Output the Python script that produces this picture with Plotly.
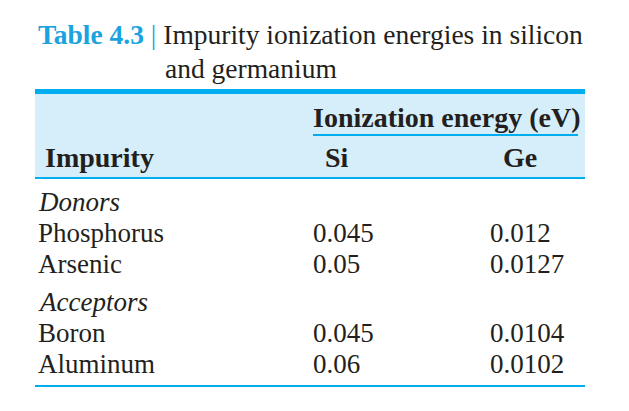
import plotly.graph_objects as go

title_label = "Table 4.3"
title_line1 = "Impurity ionization energies in silicon"
title_line2 = "and germanium"
group_header = "Ionization energy (eV)"
col_headers = ["Impurity", "Si", "Ge"]

groups = ["Donors", "Acceptors"]
impurities = [["Phosphorus", "Arsenic"], ["Boron", "Aluminum"]]
si_values = [["0.045", "0.05"], ["0.045", "0.06"]]
ge_values = [["0.012", "0.0127"], ["0.0104", "0.0102"]]

W, H = 629, 411
OFF = 8  # page body margin
BLUE = "#00AEEF"
LIGHT = "#D6EEFA"
INK = "#231F20"
FONT = "Liberation Serif, Times New Roman, Times, serif"
FS = 27

fig = go.Figure()
shapes = []
ann = []

def text(x, y, s, size=FS, anchor="left", color=INK):
    ann.append(dict(x=x, y=y, xref="x", yref="y", text=s, showarrow=False,
                    xanchor=anchor, yanchor="middle",
                    font=dict(family=FONT, size=size, color=color)))

# title
text(36, 34, f'<b><span style="color:#1BA3E0">{title_label}</span></b>'
     f'<span style="color:#1BA3E0"> | </span>{title_line1}', size=27.5)
text(163, 68, title_line2, size=27.5)

# header block
shapes.append(dict(type="rect", xref="x", yref="y", x0=35, x1=585, y0=93, y1=178,
                   fillcolor=LIGHT, line_width=0, layer="below"))
shapes.append(dict(type="rect", xref="x", yref="y", x0=35, x1=585, y0=89, y1=94,
                   fillcolor=BLUE, line_width=0))
shapes.append(dict(type="line", xref="x", yref="y", x0=35, x1=585, y0=178, y1=178,
                   line=dict(color=BLUE, width=2)))
shapes.append(dict(type="line", xref="x", yref="y", x0=313, x1=578, y0=135, y1=135,
                   line=dict(color=BLUE, width=2)))
text(311, 117, f"<b>{group_header}</b>", size=28)
text(43, 157, f"<b>{col_headers[0]}</b>", size=28)
text(337, 157, f"<b>{col_headers[1]}</b>", anchor="center", size=28)
text(520, 157, f"<b>{col_headers[2]}</b>", anchor="center", size=28)

# body
y = 202
for g, names, si, ge in zip(groups, impurities, si_values, ge_values):
    text(36, y, f"<i>{g}</i>")
    y += 31
    for n, a, b in zip(names, si, ge):
        text(36, y, n)
        text(311, y, a)
        text(488, y, b)
        y += 31
    y += 7

shapes.append(dict(type="line", xref="x", yref="y", x0=35, x1=585, y0=386, y1=386,
                   line=dict(color=BLUE, width=2)))

fig.update_layout(width=W, height=H, margin=dict(l=0, r=0, t=0, b=0),
                  paper_bgcolor="white", plot_bgcolor="white",
                  shapes=shapes, annotations=ann, showlegend=False,
                  xaxis=dict(range=[OFF, W + OFF], visible=False, fixedrange=True),
                  yaxis=dict(range=[H + OFF, OFF], visible=False, fixedrange=True))
fig.write_html("out.html")
